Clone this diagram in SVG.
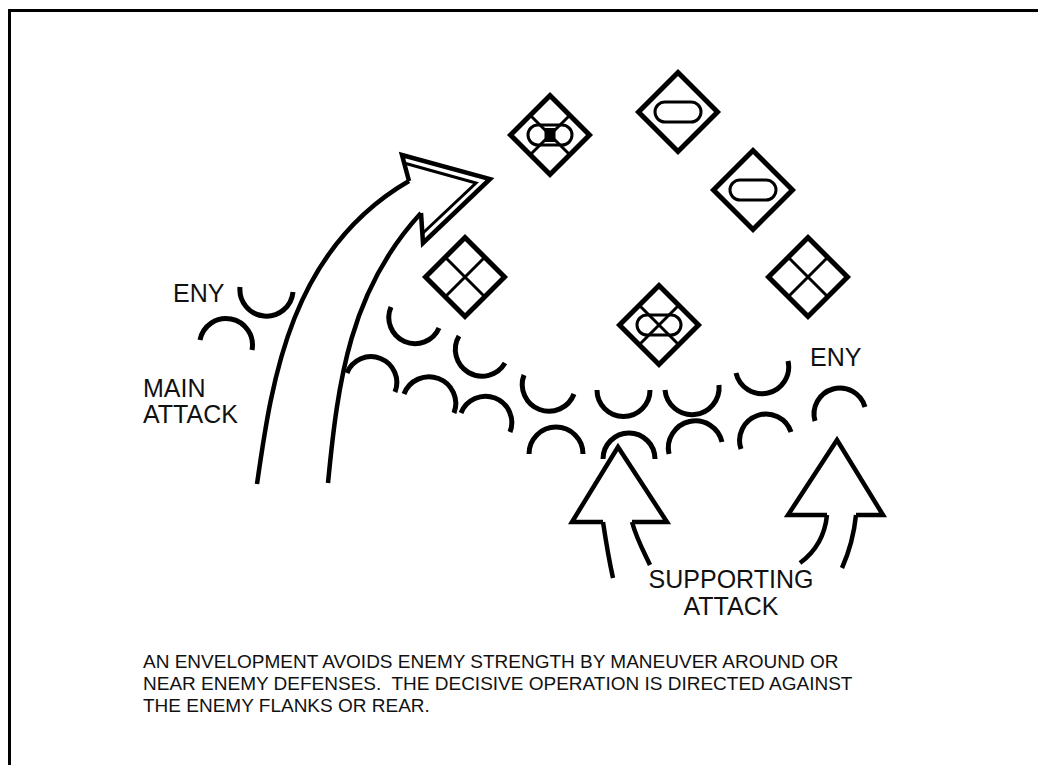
<svg xmlns="http://www.w3.org/2000/svg" xmlns:xlink="http://www.w3.org/1999/xlink" width="1038" height="765" viewBox="0 0 1038 765">
<style>
.frame{fill:none;stroke:#000;stroke-width:3}
.dia{fill:#fff;stroke:#000;stroke-width:5;stroke-linejoin:miter}
.thin{fill:none;stroke:#000;stroke-width:3}
.arc{fill:none;stroke:#000;stroke-width:5;stroke-linecap:butt}
.arrow{fill:none;stroke:#000;stroke-width:4.5;stroke-linejoin:miter}
.lbl{font-family:"Liberation Sans",Arial,sans-serif;font-size:25px;fill:#111}
.note{font-family:"Liberation Sans",Arial,sans-serif;font-size:19px;fill:#111;white-space:pre}
</style>
<defs>
<path id="frame" class="dia" d="M0,-39.5 L39.5,0 L0,39.5 L-39.5,0 Z"/>
<path id="grid" class="thin" d="M-19.75,-19.75 L19.75,19.75 M19.75,-19.75 L-19.75,19.75"/>
<rect id="oval" class="thin" x="-23" y="-10" width="46" height="20" rx="10" ry="10"/>
<rect id="oval2" class="thin" x="-22" y="-10" width="44" height="20" rx="10" ry="10"/>
</defs>
<rect class="frame" x="9.5" y="10.5" width="2000" height="2000"/>

<g id="connectors">
<g id="main-attack">
<path class="arrow" d="M257,484 C272,380 290,250 409,181"/>
<path class="arrow" d="M328,483 C338,380 350,290 421,213"/>
<path class="arrow" d="M409,181 L402,155 L490,179 L423,243 L421,213"/>
<path class="thin" d="M404,163 L476,183 L423,233"/>
</g>
<g id="supporting-attack-1">
<path class="arrow" d="M603,522 L572,522 L618,447 L667,522 L632,522"/>
<path class="arrow" d="M603,522 C606,542 609,560 613,578"/>
<path class="arrow" d="M632,522 C637,540 644,552 650,565"/>
</g>
<g id="supporting-attack-2">
<path class="arrow" d="M827,515 L788,515 L837,440 L883,515 L856,515"/>
<path class="arrow" d="M827,515 C825,535 815,552 800,563"/>
<path class="arrow" d="M856,515 C854,535 850,550 842,568"/>
</g>
</g>

<g id="enemy-positions">
<path class="arc" d="M240,287 A20,20 0 0 0 293,292"/>
<path class="arc" d="M200,340 A20,20 0 0 1 252,350"/>
<path class="arc" d="M391,307 A20,20 0 0 0 439,328"/>
<path class="arc" d="M459,336 A20,20 0 0 0 505,363"/>
<path class="arc" d="M347,373 A20,20 0 0 1 395,392"/>
<path class="arc" d="M404,394 A20,20 0 0 1 454,413"/>
<path class="arc" d="M461,413 A20,20 0 0 1 510,432"/>
<path class="arc" d="M524,375 A20,20 0 0 0 574,394"/>
<path class="arc" d="M529,454 A20,20 0 0 1 583,454"/>
<path class="arc" d="M597,390 A20,20 0 0 0 650,390"/>
<path class="arc" d="M603,459 A20,20 0 0 1 655,459"/>
<path class="arc" d="M665,390 A20,20 0 0 0 719,385"/>
<path class="arc" d="M669,454 A20,20 0 0 1 722,442"/>
<path class="arc" d="M736,373 A20,20 0 0 0 788,361"/>
<path class="arc" d="M741,449 A20,20 0 0 1 791,432"/>
<path class="arc" d="M815,421 A20,20 0 0 1 865,407"/>
</g>

<g id="unit-mech-1" transform="translate(550,135)">
<use xlink:href="#frame"/><use xlink:href="#oval2"/><use xlink:href="#grid"/>
<rect x="-5.5" y="-7" width="11" height="14" fill="#000"/>
</g>
<g id="unit-armor-1" transform="translate(678,112)">
<use xlink:href="#frame"/><use xlink:href="#oval"/>
</g>
<g id="unit-armor-2" transform="translate(753,190)">
<use xlink:href="#frame"/><use xlink:href="#oval"/>
</g>
<g id="unit-inf-1" transform="translate(465,277)">
<use xlink:href="#frame"/><use xlink:href="#grid"/>
</g>
<g id="unit-inf-2" transform="translate(808,277)">
<use xlink:href="#frame"/><use xlink:href="#grid"/>
</g>
<g id="unit-mech-2" transform="translate(659,325)">
<use xlink:href="#frame"/><use xlink:href="#oval2"/><use xlink:href="#grid"/>
</g>

<g id="labels">
<text class="lbl" x="173" y="302">ENY</text>
<text class="lbl" x="810" y="366">ENY</text>
<text class="lbl" x="143" y="397">MAIN</text>
<text class="lbl" x="143" y="423">ATTACK</text>
<text class="lbl" x="731" y="588" text-anchor="middle">SUPPORTING</text>
<text class="lbl" x="731" y="615" text-anchor="middle">ATTACK</text>
</g>
<g id="caption">
<text class="note" x="143" y="668">AN ENVELOPMENT AVOIDS ENEMY STRENGTH BY MANEUVER AROUND OR</text>
<text class="note" x="143" y="690" xml:space="preserve">NEAR ENEMY DEFENSES.  THE DECISIVE OPERATION IS DIRECTED AGAINST</text>
<text class="note" x="143" y="712">THE ENEMY FLANKS OR REAR.</text>
</g>
</svg>
